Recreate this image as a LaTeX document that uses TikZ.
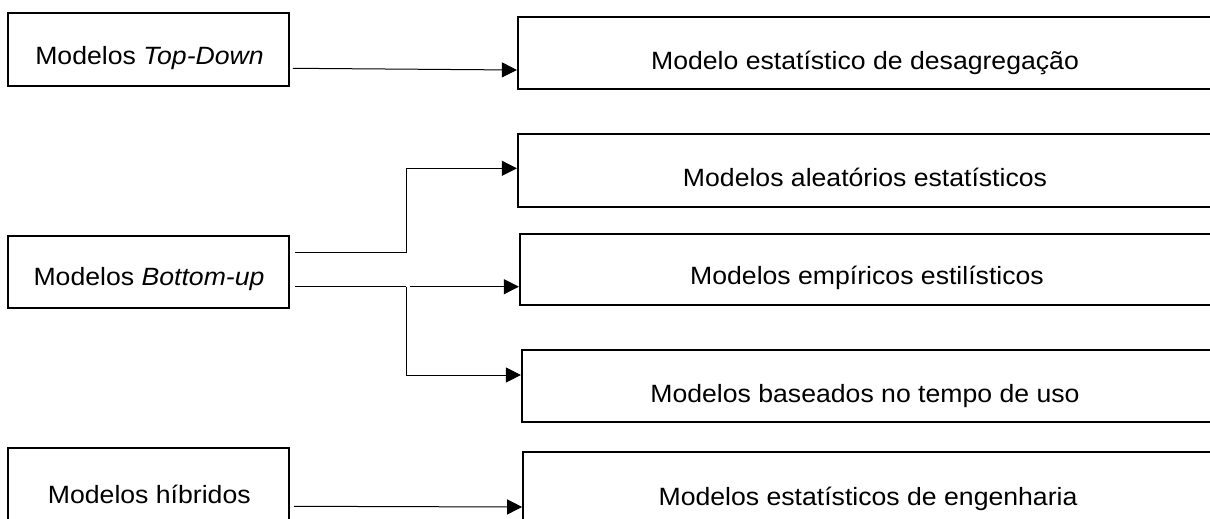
\documentclass[tikz,border=0pt]{standalone}
\usepackage{fontspec}
\setmainfont{Liberation Sans}[FakeStretch=1.065]
\usetikzlibrary{arrows.meta,calc}
\begin{document}
\begin{tikzpicture}[x=1pt,y=-1pt,
  box/.style={draw, line width=2.2pt, inner sep=0pt},
  lbl/.style={font=\fontsize{25}{30}\selectfont, inner sep=0pt},
  conn/.style={line width=1pt},
  arr/.style={conn, -{Triangle[length=15pt,width=15pt]}}]
\clip (0,0) rectangle (1210,519);
% left boxes
\node[box, minimum width=280.5pt, minimum height=72.7pt] (td) at (148.5,49.65) {};
\node[box, minimum width=280.5pt, minimum height=72pt] (bu) at (148.5,272) {};
\node[box, minimum width=280.5pt, minimum height=76pt] (hy) at (148.5,486.3) {};
\node[lbl] (tdt) at (149.5,58) {Modelos \textit{Top-Down}};
\node[lbl] (but) at (149,279) {Modelos \textit{Bottom-up}};
\node[lbl] (hyt) at (149.3,494) {Modelos híbridos};
% right boxes
\node[box, minimum width=697pt, minimum height=72.3pt] (r1) at (866.5,52.85) {};
\node[box, minimum width=697pt, minimum height=72.7pt] (r2) at (866.5,170.35) {};
\node[box, minimum width=695pt, minimum height=71pt] (r3) at (867.5,269.5) {};
\node[box, minimum width=693pt, minimum height=72pt] (r4) at (868.5,386) {};
\node[box, minimum width=692pt, minimum height=76pt] (r5) at (869.25,489.7) {};
\node[lbl] (r1t) at (865,62.5) {Modelo estatístico de desagregação};
\node[lbl] (r2t) at (865,177.5) {Modelos aleatórios estatísticos};
\node[lbl] (r3t) at (867,277.5) {Modelos empíricos estilísticos};
\node[lbl] (r4t) at (865,396) {Modelos baseados no tempo de uso};
\node[lbl] (r5t) at (868,499) {Modelos estatísticos de engenharia};
% connectors
\coordinate (j1) at (406,252.3);
\coordinate (j2) at (406,286.7);
\coordinate (j2b) at (410,286.7);
\draw[arr] ([xshift=3pt,yshift=-18.65pt]td.east) -- ([yshift=-17.15pt]r1.west);
\draw[arr] ([xshift=5pt,yshift=19.7pt]bu.east) -- (j1) |- ([yshift=2.05pt]r2.west);
\draw[conn] ([xshift=5pt,yshift=-14.7pt]bu.east) -- (j2);
\draw[arr] (j2b) -- ([yshift=-17.2pt]r3.west);
\draw[arr] (j2) |- ([yshift=11pt]r4.west);
\draw[arr] ([xshift=4pt,yshift=-20pt]hy.east) -- ([yshift=-17.3pt]r5.west);
\end{tikzpicture}
\end{document}
